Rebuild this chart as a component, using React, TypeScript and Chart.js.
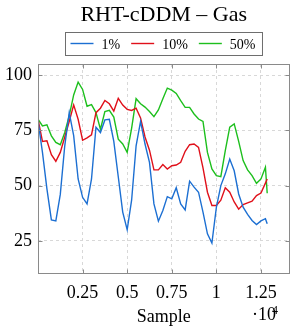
import React, { useEffect, useRef } from 'react';
import { Chart, registerables } from 'chart.js';

Chart.register(...registerables);

const chartTitle = 'RHT-cDDM – Gas';
const xAxisTitle = 'Sample';
const seriesNames = ['1%', '10%', '50%'];
const seriesColors = ['#1c6fd2', '#e0101a', '#1dbf1d'];

const samples = [
  0, 250, 500, 750, 1000, 1250, 1500, 1750, 2000, 2250, 2500, 2750, 3000, 3250, 3500, 3750,
  4000, 4250, 4500, 4750, 5000, 5250, 5500, 5750, 6000, 6250, 6500, 6750, 7000, 7250, 7500,
  7750, 8000, 8250, 8500, 8750, 9000, 9250, 9500, 9750, 10000, 10250, 10500, 10750, 11000,
  11250, 11500, 11750, 12000, 12250, 12500, 12750, 12850,
];

const blue1 = [
  79.4, 65, 48.5, 34.5, 34, 46, 68, 83, 72.6, 53, 44.7, 41.7, 53, 76.4, 74, 79.7, 80, 70, 54,
  38, 30, 43.5, 68, 79, 68.8, 60.5, 41.7, 33.9, 38.7, 45, 44, 49, 41.7, 39, 52, 49.3, 47, 38,
  28.2, 24, 40.2, 50, 55.3, 62, 56.7, 46.2, 40.2, 37, 34.2, 32.4, 34, 35, 32.7,
];

const red10 = [
  80, 70, 70.3, 64, 61, 65, 72, 79, 86.5, 80, 70.5, 71.6, 73, 83, 85, 88.5, 87, 83.7, 89.5,
  86.4, 84.5, 84, 85, 80.6, 72, 66, 57.1, 57.1, 59.5, 57.5, 59, 59.3, 60.5, 65.5, 68.5, 68.8,
  67.3, 58, 47, 41, 41, 43.4, 49, 47, 42.6, 39.3, 41.4, 42.2, 42.9, 45.5, 46.6, 51.1, 53,
];

const green50 = [
  80, 77, 77.5, 72.5, 69.5, 68.5, 74, 81.5, 91, 96.8, 93.5, 85.9, 86.6, 83, 75.5, 83.5, 84, 81,
  71, 68.8, 65, 76, 89.3, 87, 85.5, 83.5, 81.2, 84.2, 89.3, 94.1, 93.2, 91.7, 88.4, 85.4, 85.4,
  82.4, 80.1, 79, 65, 57.5, 54.5, 54, 65.8, 76.4, 77.9, 70, 61.3, 57.1, 54.5, 51, 53, 58.3, 46.5,
];

const xTickValues = [2500, 5000, 7500, 10000, 12500];
const xTickLabels = ['0.25', '0.5', '0.75', '1', '1.25'];
const yTickValues = [25, 50, 75, 100];
const yTickLabels = ['25', '50', '75', '100'];

const SERIF = "'Liberation Serif', 'Times New Roman', serif";
const AXIS_GREY = '#8a8a8a';

const decorPlugin = {
  id: 'decor',
  afterDatasetsDraw(chart: any) {
    const { ctx, chartArea: a, scales } = chart;
    ctx.save();
    ctx.strokeStyle = AXIS_GREY;
    ctx.lineWidth = 1;
    const L = Math.round(a.left) + 0.5;
    const R = Math.round(a.right) - 0.5;
    const T = Math.round(a.top) + 0.5;
    const B = Math.round(a.bottom) - 0.5;
    ctx.beginPath();
    xTickValues.forEach((v) => {
      const x = Math.round(scales.x.getPixelForValue(v)) + 0.5;
      ctx.moveTo(x, B);
      ctx.lineTo(x, B - 4);
      ctx.moveTo(x, T);
      ctx.lineTo(x, T + 4);
    });
    yTickValues.forEach((v) => {
      const y = Math.round(scales.y.getPixelForValue(v)) + 0.5;
      ctx.moveTo(L, y);
      ctx.lineTo(L + 4, y);
      ctx.moveTo(R, y);
      ctx.lineTo(R - 4, y);
    });
    ctx.stroke();
    ctx.strokeRect(L, T, R - L, B - T);
    ctx.restore();
  },
  afterDraw(chart: any) {
    const { ctx, chartArea: a } = chart;
    const cx = (a.left + a.right) / 2;
    ctx.save();
    // title
    ctx.fillStyle = '#000';
    ctx.font = `22px ${SERIF}`;
    ctx.textAlign = 'center';
    ctx.textBaseline = 'alphabetic';
    ctx.fillText(chartTitle, cx, 21);

    // legend
    ctx.font = `14px ${SERIF}`;
    const lineLen = 23;
    const gapLineText = 8;
    const gapItems = 11;
    const padL = 5;
    const padR = 7;
    const datasets = chart.data.datasets;
    const widths = datasets.map((d: any) => ctx.measureText(d.label).width);
    let total = padL + padR;
    widths.forEach((w: number, i: number) => {
      total += lineLen + gapLineText + w + (i < widths.length - 1 ? gapItems : 0);
    });
    const boxLeft = Math.round(cx - total / 2) + 0.5;
    const boxTop = 32.5;
    const boxH = 23;
    ctx.strokeStyle = '#6e6e6e';
    ctx.lineWidth = 1;
    ctx.strokeRect(boxLeft, boxTop, total, boxH);
    let x = boxLeft + padL;
    const lineY = 43.5;
    ctx.textAlign = 'left';
    datasets.forEach((d: any, i: number) => {
      ctx.strokeStyle = d.borderColor;
      ctx.lineWidth = 1.4;
      ctx.beginPath();
      ctx.moveTo(x, lineY);
      ctx.lineTo(x + lineLen, lineY);
      ctx.stroke();
      x += lineLen + gapLineText;
      ctx.fillStyle = '#000';
      ctx.fillText(d.label, x, 49);
      x += widths[i] + gapItems;
    });

    // scale multiplier
    ctx.font = `18px ${SERIF}`;
    ctx.textAlign = 'left';
    ctx.fillText('·10', 252, 320);
    ctx.font = `12px ${SERIF}`;
    ctx.fillText('4', 272, 314);
    ctx.restore();
  },
};

export default function App() {
  const ref = useRef<HTMLCanvasElement | null>(null);

  useEffect(() => {
    if (!ref.current) return;
    const mk = (vals: number[]) => samples.map((s, i) => ({ x: s, y: vals[i] }));
    const seriesValues = [blue1, red10, green50];
    const chart = new Chart(ref.current, {
      type: 'line',
      data: {
        datasets: seriesValues.map((vals, i) => ({
          label: seriesNames[i],
          data: mk(vals),
          borderColor: seriesColors[i],
          backgroundColor: seriesColors[i],
          borderWidth: 1.4,
          pointRadius: 0,
          tension: 0,
          fill: false,
        })),
      },
      options: {
        animation: false,
        responsive: false,
        maintainAspectRatio: false,
        devicePixelRatio: 1,
        layout: { padding: { top: 64, left: 0, right: 1.5, bottom: 0 } },
        plugins: {
          legend: { display: false },
          title: { display: false },
          tooltip: { enabled: false },
        },
        scales: {
          x: {
            type: 'linear',
            min: 0,
            max: 14100,
            afterFit: (s: any) => {
              s.height = 56;
            },
            afterBuildTicks: (s: any) => {
              s.ticks = xTickValues.map((v) => ({ value: v }));
            },
            ticks: {
              autoSkip: false,
              maxRotation: 0,
              padding: 8,
              color: '#000',
              font: { family: SERIF, size: 18 },
              callback: (v: any) => {
                const idx = xTickValues.indexOf(Number(v));
                return idx >= 0 ? xTickLabels[idx] : '';
              },
            },
            grid: { color: '#d8d8d8', drawTicks: false, lineWidth: 1 },
            border: { display: false, dash: [3, 3] },
            title: {
              display: true,
              text: xAxisTitle,
              color: '#000',
              font: { family: SERIF, size: 18 },
              padding: { top: 0, bottom: 2 },
            },
          },
          y: {
            min: 10,
            max: 105,
            afterFit: (s: any) => {
              s.width = 38;
            },
            afterBuildTicks: (s: any) => {
              s.ticks = yTickValues.map((v) => ({ value: v }));
            },
            ticks: {
              autoSkip: false,
              padding: 6,
              color: '#000',
              font: { family: SERIF, size: 18 },
              callback: (v: any) => {
                const idx = yTickValues.indexOf(Number(v));
                return idx >= 0 ? yTickLabels[idx] : '';
              },
            },
            grid: { color: '#d8d8d8', drawTicks: false, lineWidth: 1 },
            border: { display: false, dash: [3, 3] },
          },
        },
      },
      plugins: [decorPlugin],
    } as any);
    return () => chart.destroy();
  }, []);

  return (
    <div style={{ position: 'fixed', left: 0, top: 0, width: 291, height: 330, background: '#fff' }}>
      <canvas ref={ref} width={291} height={330} style={{ display: 'block', width: 291, height: 330 }} />
    </div>
  );
}
